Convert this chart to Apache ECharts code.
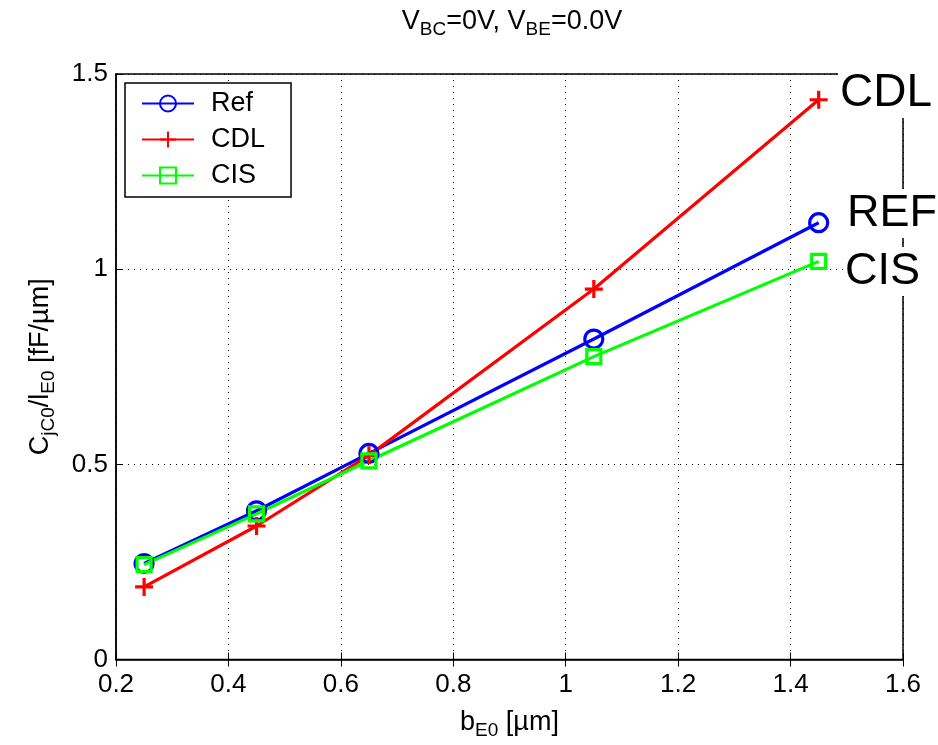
<!DOCTYPE html>
<html>
<head>
<meta charset="utf-8">
<script src="https://cdn.jsdelivr.net/npm/echarts@6/dist/echarts.min.js"></script>
<style>html,body{margin:0;padding:0;background:#fff}#c{width:938px;height:745px}</style>
</head>
<body>
<div id="c"></div>
<script>
const bE0 = [0.25, 0.45, 0.65, 1.05, 1.45];
const refVals = [0.246, 0.381, 0.528, 0.821, 1.119];
const cdlVals = [0.186, 0.342, 0.523, 0.949, 1.434];
const cisVals = [0.243, 0.373, 0.509, 0.776, 1.020];
const seriesNames = ['Ref', 'CDL', 'CIS'];
const endLabels = ['REF', 'CDL', 'CIS'];

const F = 'Liberation Sans, Arial, Helvetica, sans-serif';
const pair = v => bE0.map((x, i) => [x, v[i]]);
const plusPath = 'path://M0,10L20,10M10,0L10,20';

const richMain = { fontFamily: F, fontSize: 27, fontWeight: 'normal', color: '#000', lineHeight: 34 };
const richSub = { fontFamily: F, fontSize: 19, fontWeight: 'normal', color: '#000', lineHeight: 34, padding: [16, 0, 0, 0] };

const chart = echarts.init(document.getElementById('c'));
const mk = (name, vals, color, symbol, size) => ({
  name, type: 'line', data: pair(vals), symbol, symbolSize: size,
  showAllSymbol: true,
  lineStyle: { color, width: 3.2 },
  itemStyle: { color: symbol.startsWith('path') ? color : 'rgba(0,0,0,0)', borderColor: color, borderWidth: 3.2 },
  emphasis: { disabled: true }, z: 3
});
chart.setOption({
  animation: false,
  title: {
    text: '{v|V}{s|BC}{v|=0V, V}{s|BE}{v|=0.0V}',
    left: 507, top: 0, textAlign: 'center',
    textStyle: { fontWeight: 'normal', rich: { v: richMain, s: richSub } }
  },
  grid: { left: 116, right: 35, top: 74, bottom: 83, show: true, borderColor: '#000', borderWidth: 1.5, backgroundColor: 'transparent' },
  legend: {
    orient: 'vertical', left: 125, top: 83, data: seriesNames,
    itemWidth: 52, itemHeight: 20, itemGap: 9,
    padding: [7, 26, 8, 16],
    borderColor: '#000', borderWidth: 1.5, backgroundColor: '#fff',
    textStyle: { fontFamily: F, fontSize: 27, color: '#000', padding: [0, 0, 0, 12] },
    selectedMode: false
  },
  xAxis: [{
    type: 'value', min: 0.2, max: 1.6, interval: 0.2,
    axisLine: { show: true, onZero: false, lineStyle: { color: '#000', width: 1.5 } },
    axisTick: { show: true, inside: true, length: 7, lineStyle: { color: '#000' } },
    axisLabel: { fontFamily: F, fontSize: 26, color: '#000', margin: 12,
      formatter: v => String(Math.round(v * 10) / 10) },
    splitLine: { show: true, lineStyle: { color: '#000', type: [1, 5], width: 1 } },
    name: '{n|b}{s|E0}{n| [µm]}', nameLocation: 'middle', nameGap: 46,
    nameTextStyle: { rich: { n: richMain, s: richSub } }
  }, {
    type: 'value', position: 'top', min: 0.2, max: 1.6, interval: 0.2,
    axisLine: { show: false }, axisLabel: { show: false }, splitLine: { show: false },
    axisTick: { show: true, inside: true, length: 7, lineStyle: { color: '#000' } }
  }],
  yAxis: [{
    type: 'value', min: 0, max: 1.5, interval: 0.5,
    axisLine: { show: true, onZero: false, lineStyle: { color: '#000', width: 1.5 } },
    axisTick: { show: true, inside: true, length: 7, lineStyle: { color: '#000' } },
    axisLabel: { fontFamily: F, fontSize: 26, color: '#000', margin: 8,
      formatter: v => String(Math.round(v * 10) / 10) },
    splitLine: { show: true, lineStyle: { color: '#000', type: [1, 5], width: 1 } },
    name: '{n|C}{s|jC0}{n|/l}{s|E0}{n| [fF/µm]}', nameLocation: 'middle', nameGap: 58,
    nameTextStyle: { rich: { n: richMain, s: richSub } }
  }, {
    type: 'value', position: 'right', min: 0, max: 1.5, interval: 0.5,
    axisLine: { show: false }, axisLabel: { show: false }, splitLine: { show: false },
    axisTick: { show: true, inside: true, length: 7, lineStyle: { color: '#000' } }
  }],
  series: [
    mk('Ref', refVals, '#0000ff', 'circle', 18),
    mk('CDL', cdlVals, '#ff0000', plusPath, 18),
    mk('CIS', cisVals, '#00ff00', 'rect', 14)
  ],
  graphic: [
    { type: 'text', left: 838, top: 68, z: 100, style: { text: endLabels[1], font: '46px ' + F, fill: '#000', backgroundColor: '#fff', padding: [2, 4, 2, 2] } },
    { type: 'text', left: 845, top: 189, z: 100, style: { text: endLabels[0], font: '45px ' + F, fill: '#000', backgroundColor: '#fff', padding: [2, 4, 2, 2] } },
    { type: 'text', left: 843, top: 247, z: 100, style: { text: endLabels[2], font: '45px ' + F, fill: '#000', backgroundColor: '#fff', padding: [2, 20, 2, 2] } }
  ]
});
</script>
</body>
</html>
